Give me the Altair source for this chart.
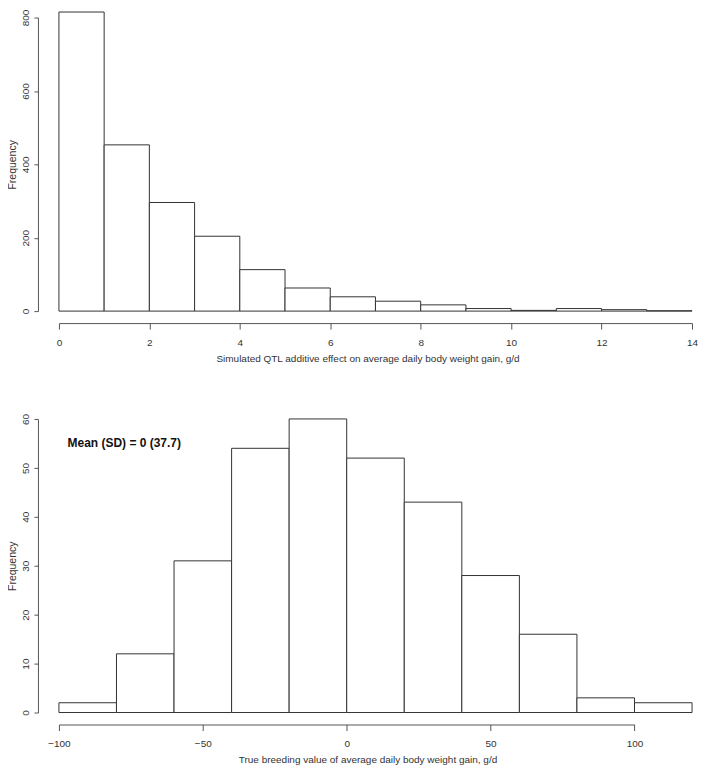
import altair as alt
import pandas as pd

# Top histogram: simulated QTL additive effects (bins of width 1 from 0 to 14)
qtl_bin_start = [0, 1, 2, 3, 4, 5, 6, 7, 8, 9, 10, 11, 12, 13]
qtl_bin_end = [1, 2, 3, 4, 5, 6, 7, 8, 9, 10, 11, 12, 13, 14]
qtl_counts = [815, 453, 296, 204, 113, 63, 39, 27, 17, 7, 2, 7, 4, 1]
qtl_x_ticks = [0, 2, 4, 6, 8, 10, 12, 14]
qtl_y_ticks = [0, 200, 400, 600, 800]

# Bottom histogram: true breeding values (bins of width 20 from -100 to 120)
tbv_bin_start = [-100, -80, -60, -40, -20, 0, 20, 40, 60, 80, 100]
tbv_bin_end = [-80, -60, -40, -20, 0, 20, 40, 60, 80, 100, 120]
tbv_counts = [2, 12, 31, 54, 60, 52, 43, 28, 16, 3, 2]
tbv_x_ticks = [-100, -50, 0, 50, 100]
tbv_y_ticks = [0, 10, 20, 30, 40, 50, 60]

annotation_text = ["Mean (SD) = 0 (37.7)"]
annotation_x = [-97]
annotation_y = [55]

FONT = "Liberation Sans, Arial, sans-serif"
AX = "#555555"
TXT = "#333333"

df_top = pd.DataFrame({"start": qtl_bin_start, "end": qtl_bin_end, "count": qtl_counts})
df_bot = pd.DataFrame({"start": tbv_bin_start, "end": tbv_bin_end, "count": tbv_counts})
df_ann = pd.DataFrame({"x": annotation_x, "y": annotation_y, "label": annotation_text})


def x_axis(title, ticks):
    return alt.Axis(
        title=title, values=ticks, grid=False, offset=12, tickSize=6,
        labelPadding=8, labelFont=FONT, labelFontSize=10, labelColor=TXT,
        domainColor=AX, tickColor=AX, titleFont=FONT, titleFontSize=10,
        titleFontWeight="normal", titleColor=TXT, titlePadding=6,
        titleX=309, titleAlign="center", labelFlush=False,
    )


def y_axis(ticks):
    return alt.Axis(
        title="Frequency", values=ticks, grid=False, offset=21, tickSize=4,
        labelAngle=270, labelAlign="center", labelBaseline="bottom",
        labelPadding=3, labelFont=FONT, labelFontSize=10, labelColor=TXT,
        domainColor=AX, tickColor=AX, titleFont=FONT, titleFontSize=10.5,
        titleFontWeight="normal", titleColor=TXT, titlePadding=3, labelFlush=False,
    )


top = alt.Chart(df_top).mark_rect(fill="white", stroke="#333333", strokeWidth=1).encode(
    x=alt.X("start:Q", scale=alt.Scale(domain=[0, 14], nice=False, zero=False),
            axis=x_axis("Simulated QTL additive effect on average daily body weight gain, g/d", qtl_x_ticks)),
    x2="end:Q",
    y=alt.Y("count:Q", scale=alt.Scale(domain=[0, 800], range=[300, 6], nice=False, zero=False),
            axis=y_axis(qtl_y_ticks)),
    y2=alt.datum(0),
).properties(width=634, height=300)

bot_bars = alt.Chart(df_bot).mark_rect(fill="white", stroke="#333333", strokeWidth=1).encode(
    x=alt.X("start:Q", scale=alt.Scale(domain=[-100, 100], range=[0, 576.4], nice=False, zero=False),
            axis=x_axis("True breeding value of average daily body weight gain, g/d", tbv_x_ticks)),
    x2="end:Q",
    y=alt.Y("count:Q", scale=alt.Scale(domain=[0, 60], range=[300, 6], nice=False, zero=False),
            axis=y_axis(tbv_y_ticks)),
    y2=alt.datum(0),
)

bot_text = alt.Chart(df_ann).mark_text(
    align="left", baseline="middle", font=FONT, fontSize=12, fontWeight="bold", color="#111111"
).encode(x="x:Q", y="y:Q", text="label:N")

bottom = alt.layer(bot_bars, bot_text).properties(width=634, height=300)

chart = alt.vconcat(top, bottom, spacing=102, bounds="flush").configure_view(
    stroke=None
).properties(background="white", padding=0)

chart.save("out.html", embed_options={"renderer": "svg", "actions": False})
